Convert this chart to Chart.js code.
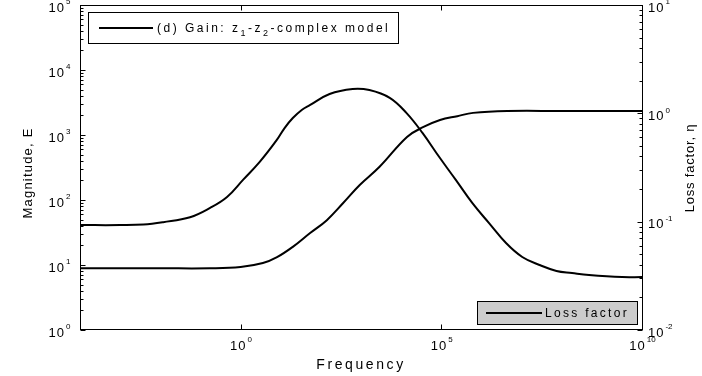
<!DOCTYPE html>
<html>
<head>
<meta charset="utf-8">
<script src="https://cdn.jsdelivr.net/npm/chart.js@4/dist/chart.umd.min.js"></script>
<style>
  html, body { margin: 0; padding: 0; background: #fff; }
  #chart { display: block; }
</style>
</head>
<body>
<canvas id="chart" width="702" height="376"></canvas>
<script>
"use strict";

// magnitude E of the z1-z2 complex model (left axis)
const magFreq = [1e-4, 1e-2, 0.17, 1, 3.6, 8.1, 20, 54, 141, 355, 930, 2900, 1.4e4, 3.5e4, 9.3e4, 2.5e5, 6.2e5,
    4.4e6, 1e8, 1e10];
const magnitude = [8.9, 8.9, 8.9, 9.3, 10.7, 13.2, 19, 31, 49, 89, 170, 324, 933, 1318, 1700, 1950, 2190,
    2340, 2340, 2340];

// loss factor eta (right axis)
const lossFreq = [1e-4, 1e-3, 3.8e-3, 0.0118, 0.055, 0.174, 0.46, 1.15, 3.0, 8.0, 12.6, 20, 34, 53, 165, 620, 1620,
    5200, 1.35e4, 3.4e4, 8.9e4, 2.3e5, 5.9e5, 1.55e6, 4.1e6, 1.04e7, 2.8e7, 7.4e7, 1.8e8, 4.8e8, 3.2e9, 1e10];
const lossFactor = [0.093, 0.093, 0.094, 0.099, 0.110, 0.134, 0.169, 0.243, 0.356, 0.568, 0.735, 0.905, 1.08, 1.19, 1.51, 1.68, 1.64,
    1.39, 1.01, 0.66, 0.395, 0.243, 0.149, 0.097, 0.0635, 0.0472, 0.0398, 0.0351, 0.0336, 0.0322, 0.0308, 0.0308];

// tick values
const freqTicks = [1, 1e5, 1e10];
const magTicks = [1, 10, 100, 1e3, 1e4, 1e5];
const lossTicks = [0.01, 0.1, 1, 10];

const gainLabel = ['(d) Gain: z', '1', '-z', '2', '-complex model'];
const lossLabel = 'Loss factor';
const xTitle = 'Frequency';
const yTitle = 'Magnitude, E';
const y1Title = 'Loss factor, \u03b7';

const FONT = '"Liberation Sans", Arial, Helvetica, sans-serif';

const fixTicks = (values) => (scale) => {
    scale.ticks = values.map(v => ({value: v}));
};

function spacedText(ctx, text, x, y, spacing) {
    ctx.letterSpacing = spacing + 'px';
    ctx.fillText(text, x, y);
    const w = ctx.measureText(text).width;
    ctx.letterSpacing = '0px';
    return w;
}

// "10" with a raised exponent; anchor is where the base text starts or ends
function powerLabel(ctx, value, x, y, align) {
    const exp = String(Math.round(Math.log10(value)));
    ctx.textBaseline = 'middle';
    ctx.textAlign = 'left';
    ctx.font = '13px ' + FONT;
    ctx.letterSpacing = '1px';
    const wb = ctx.measureText('10').width;
    ctx.font = '8px ' + FONT;
    ctx.letterSpacing = '0px';
    const we = ctx.measureText(exp).width;
    let x0 = x;
    if (align === 'right') x0 = x - wb;
    if (align === 'center') x0 = x - (wb + we) / 2;
    ctx.font = '13px ' + FONT;
    spacedText(ctx, '10', x0, y + 3, 1);
    ctx.font = '8px ' + FONT;
    spacedText(ctx, exp, x0 + wb + 1, y - 3, 0);
}

// box, inward tick marks, tick labels, legends and axis titles
const frame = {
    id: 'frame',
    afterDatasetsDraw(chart) {
        const {ctx, chartArea: a, scales} = chart;
        const L = Math.round(a.left) + 0.5, R = Math.round(a.right) + 0.5;
        const T = Math.round(a.top) + 0.5, B = Math.round(a.bottom) - 0.5;

        ctx.save();
        ctx.strokeStyle = '#000';
        ctx.lineWidth = 1;
        ctx.strokeRect(L, T, R - L, B - T);

        ctx.beginPath();
        // frequency ticks, bottom and top
        scales.x.ticks.forEach(t => {
            const x = Math.round(scales.x.getPixelForValue(t.value)) + 0.5;
            ctx.moveTo(x, B); ctx.lineTo(x, B - 5);
            ctx.moveTo(x, T); ctx.lineTo(x, T + 5);
        });
        // magnitude ticks on the left edge
        for (let e = 0; e < 5; e++) {
            for (let k = 1; k < 10; k++) {
                const y = Math.round(scales.y.getPixelForValue(k * Math.pow(10, e))) + 0.5;
                ctx.moveTo(L, y); ctx.lineTo(L + (k === 1 ? 5 : 3), y);
            }
        }
        // loss factor ticks on the right edge
        for (let e = -2; e < 1; e++) {
            for (let k = 1; k < 10; k++) {
                const y = Math.round(scales.y1.getPixelForValue(k * Math.pow(10, e))) + 0.5;
                ctx.moveTo(R, y); ctx.lineTo(R - (k === 1 ? 5 : 3), y);
            }
        }
        ctx.stroke();

        // tick labels
        ctx.fillStyle = '#000';
        scales.x.ticks.forEach(t => {
            powerLabel(ctx, t.value, scales.x.getPixelForValue(t.value), 343, 'center');
        });
        scales.y.ticks.forEach(t => {
            powerLabel(ctx, t.value, 65, scales.y.getPixelForValue(t.value), 'right');
        });
        scales.y1.ticks.forEach(t => {
            powerLabel(ctx, t.value, 648, scales.y1.getPixelForValue(t.value), 'left');
        });

        // gain legend, top left
        ctx.fillStyle = '#fff';
        ctx.fillRect(88.5, 12.5, 310, 31);
        ctx.strokeRect(88.5, 12.5, 310, 31);
        ctx.beginPath();
        ctx.lineWidth = 2;
        ctx.moveTo(99, 28); ctx.lineTo(153, 28);
        ctx.stroke();

        ctx.fillStyle = '#000';
        ctx.textBaseline = 'alphabetic';
        ctx.textAlign = 'left';
        let x = 157;
        gainLabel.forEach((part, i) => {
            const sub = i % 2 === 1;
            ctx.font = (sub ? '9px ' : '12px ') + FONT;
            x += spacedText(ctx, part, x, sub ? 36 : 32, 2.5);
        });

        // loss factor legend, bottom right
        ctx.lineWidth = 1;
        ctx.fillStyle = '#cccccc';
        ctx.fillRect(477.5, 301.5, 160, 23);
        ctx.strokeRect(477.5, 301.5, 160, 23);
        ctx.beginPath();
        ctx.lineWidth = 2;
        ctx.moveTo(486, 313); ctx.lineTo(542, 313);
        ctx.stroke();
        ctx.fillStyle = '#000';
        ctx.font = '12px ' + FONT;
        spacedText(ctx, lossLabel, 545, 317, 2.3);

        // axis titles
        ctx.font = '14px ' + FONT;
        ctx.textAlign = 'center';
        ctx.textBaseline = 'middle';
        spacedText(ctx, xTitle, (a.left + a.right) / 2, 365, 2.6);

        ctx.font = '13px ' + FONT;
        ctx.translate(28, 173);
        ctx.rotate(-Math.PI / 2);
        spacedText(ctx, yTitle, 0, 0, 1.2);
        ctx.setTransform(1, 0, 0, 1, 0, 0);

        ctx.translate(690, 168);
        ctx.rotate(-Math.PI / 2);
        spacedText(ctx, y1Title, 0, 0, 0.8);
        ctx.restore();
    }
};

const hidden = {display: false};

new Chart(document.getElementById('chart'), {
    type: 'line',
    data: {
        datasets: [{
            label: 'Magnitude',
            data: magFreq.map((f, i) => ({x: f, y: magnitude[i]})),
            yAxisID: 'y',
            borderColor: '#000',
            borderWidth: 2,
            pointRadius: 0,
            tension: 0.4
        }, {
            label: lossLabel,
            data: lossFreq.map((f, i) => ({x: f, y: lossFactor[i]})),
            yAxisID: 'y1',
            borderColor: '#000',
            borderWidth: 2,
            pointRadius: 0,
            tension: 0.4
        }]
    },
    options: {
        responsive: false,
        devicePixelRatio: 1,
        animation: false,
        layout: {padding: {top: 5, left: 0, right: 0, bottom: 0}},
        plugins: {
            legend: {display: false},
            tooltip: {enabled: false}
        },
        scales: {
            x: {
                type: 'logarithmic',
                min: 1e-4,
                max: 1e10,
                afterBuildTicks: fixTicks(freqTicks),
                afterFit: (s) => { s.height = 46; s.paddingLeft = 0; s.paddingRight = 0; },
                grid: hidden,
                border: hidden,
                ticks: hidden
            },
            y: {
                type: 'logarithmic',
                position: 'left',
                min: 1,
                max: 1e5,
                afterBuildTicks: fixTicks(magTicks),
                afterFit: (s) => { s.width = 80; s.paddingTop = 0; s.paddingBottom = 0; },
                grid: hidden,
                border: hidden,
                ticks: hidden
            },
            y1: {
                type: 'logarithmic',
                position: 'right',
                min: 0.01,
                max: 10,
                afterBuildTicks: fixTicks(lossTicks),
                afterFit: (s) => { s.width = 60; s.paddingTop = 0; s.paddingBottom = 0; },
                grid: hidden,
                border: hidden,
                ticks: hidden
            }
        }
    },
    plugins: [frame]
});
</script>
</body>
</html>
